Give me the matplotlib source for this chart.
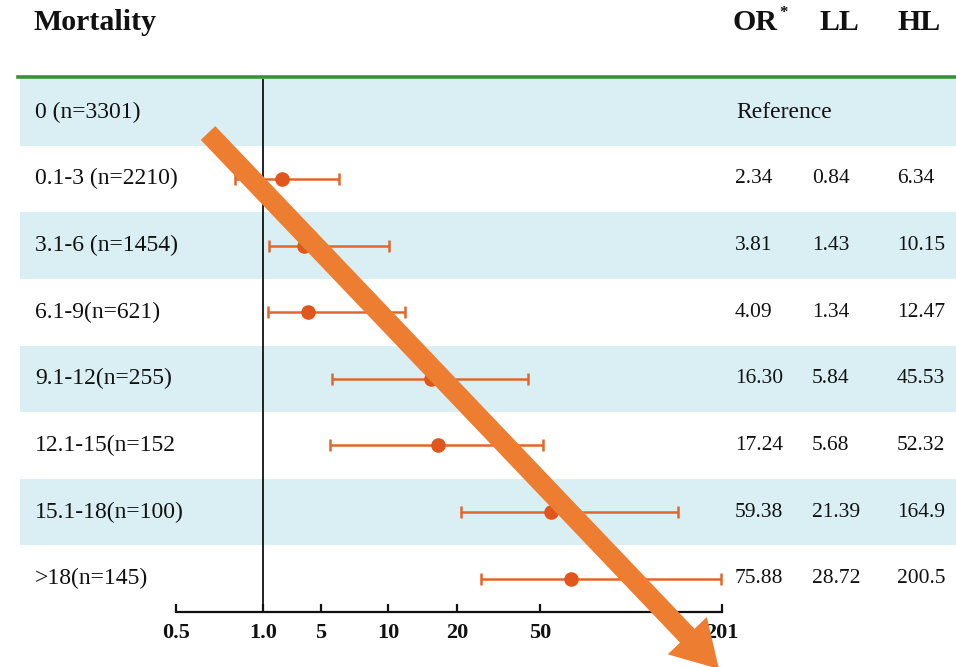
import numpy as np
import matplotlib
matplotlib.use("Agg")
import matplotlib.pyplot as plt
from matplotlib.patches import FancyArrow
from matplotlib.ticker import NullLocator

plt.rcParams['font.family'] = ['Liberation Serif', 'DejaVu Serif']

# dose groups and odds ratios (first group is the reference)
groups = ["0 (n=3301)", "0.1-3 (n=2210)", "3.1-6 (n=1454)", "6.1-9(n=621)",
          "9.1-12(n=255)", "12.1-15(n=152", "15.1-18(n=100)", ">18(n=145)"]
odds = [np.nan, 2.34, 3.81, 4.09, 16.30, 17.24, 59.38, 75.88]
lower = [np.nan, 0.84, 1.43, 1.34, 5.84, 5.68, 21.39, 28.72]
upper = [np.nan, 6.34, 10.15, 12.47, 45.53, 52.32, 164.9, 200.5]

tick_vals = [0.5, 1.0, 5, 10, 20, 50, 201]
tick_text = ["0.5", "1.0", "5", "10", "20", "50", "201"]
# uneven axis: where each tick sits along the axis
tick_pos = [0, 87, 145, 212, 281, 364, 546]

W, H = 956, 667
TOP, BOTTOM = 79, 612
AX_L, AX_R = 176, 722

band = '#daeff4'
dot = '#e0561c'
bar = '#e2662c'
ink = '#111111'


def fwd(x):
    return np.interp(x, tick_vals, tick_pos)


def inv(p):
    return np.interp(p, tick_pos, tick_vals)


fig = plt.figure(figsize=(W / 100, H / 100), dpi=100)
n = len(groups)

# background: row bands, labels and value columns
bg = fig.add_axes([0, 1 - BOTTOM / H, 1, (BOTTOM - TOP) / H], zorder=1)
bg.set_xlim(0, W)
bg.set_ylim(n - 0.5, -0.5)
bg.axis('off')
for i in range(n):
    if i % 2 == 0:
        bg.axhspan(i - 0.5, i + 0.5, xmin=20 / W, xmax=1, color=band, lw=0)
bg.axhline(-0.53, xmin=18 / W, xmax=1, color='#3d8f3d', lw=2.6, clip_on=False)

fs = 17
vs = 15.5
for i, g in enumerate(groups):
    bg.text(35, i, g, fontsize=fs, color=ink, va='center', ha='left')
    if np.isnan(odds[i]):
        bg.text(736, i, "Reference", fontsize=fs, color=ink, va='center')
        continue
    for x, v in zip([735, 812, 897], [odds[i], lower[i], upper[i]]):
        s = f"{v:.2f}" if v < 100 else f"{v:.1f}"
        bg.text(x, i, s, fontsize=vs, color=ink, va='center', ha='left')

hs = 21.5
fig.text(33 / W, 1 - 22 / H, "Mortality", fontsize=hs, fontweight='bold',
         color=ink, va='center', ha='left')
fig.text(733 / W, 1 - 22 / H, "OR", fontsize=hs, fontweight='bold',
         color=ink, va='center', ha='left')
fig.text(779 / W, 1 - 13 / H, "*", fontsize=12, fontweight='bold',
         color=ink, va='center', ha='left')
fig.text(819 / W, 1 - 22 / H, "LL", fontsize=hs, fontweight='bold',
         color=ink, va='center', ha='left')
fig.text(897 / W, 1 - 22 / H, "HL", fontsize=hs, fontweight='bold',
         color=ink, va='center', ha='left')

# forest plot
ax = fig.add_axes([AX_L / W, 1 - BOTTOM / H, (AX_R - AX_L) / W, (BOTTOM - TOP) / H],
                  zorder=2)
ax.patch.set_alpha(0)
ax.set_xscale('function', functions=(fwd, inv))
ax.set_xlim(0.5, 201)
ax.set_ylim(n - 0.5, -0.5)
ax.axvline(1.0, color=ink, lw=1.3, zorder=1)

y = np.arange(n)
odds_a = np.array(odds)
xerr = [odds_a - np.array(lower), np.array(upper) - odds_a]
ax.errorbar(odds_a, y, xerr=xerr, fmt='o', color=dot, ms=9.5, mec=dot,
            ecolor=bar, elinewidth=1.8, capsize=4.5, capthick=1.8, zorder=3)

for side in ['top', 'right', 'left']:
    ax.spines[side].set_visible(False)
ax.spines['bottom'].set_linewidth(1.6)
ax.spines['bottom'].set_color(ink)
ax.set_yticks([])
ax.set_xticks(tick_vals)
ax.set_xticklabels(tick_text)
ax.xaxis.set_minor_locator(NullLocator())
ax.tick_params(axis='x', direction='in', length=6, width=1.6, color=ink,
               labelsize=16, pad=8, labelcolor=ink)
for lbl in ax.get_xticklabels():
    lbl.set_fontweight('bold')

# orange arrow drawn over everything
over = fig.add_axes([0, 0, 1, 1], zorder=3)
over.set_xlim(0, W)
over.set_ylim(H, 0)
over.axis('off')
over.add_patch(FancyArrow(208, 133, 511, 536, width=20, head_width=54,
                          head_length=46, length_includes_head=True,
                          color='#ed7d31', lw=0))

fig.savefig('out.png', dpi=100, facecolor='white')
